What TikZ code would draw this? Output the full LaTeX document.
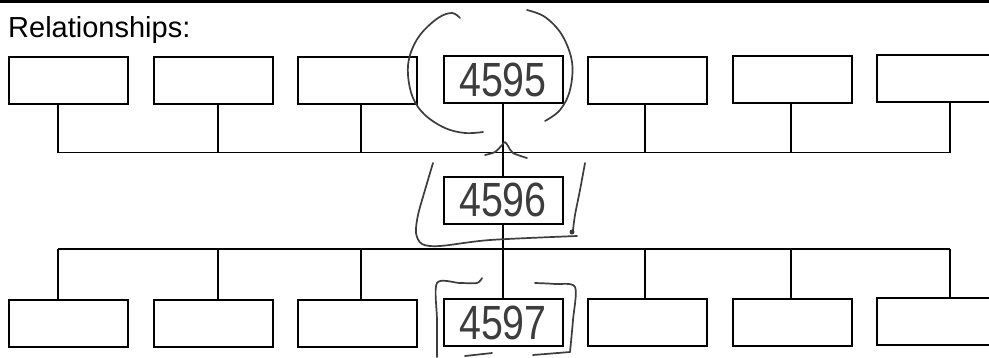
\documentclass[tikz,border=0pt]{standalone}
\usepackage{fontspec}
\setmainfont{Liberation Sans}
\begin{document}
\begin{tikzpicture}[x=1pt,y=-1pt,
  box/.style={draw=black,line width=2pt,minimum width=119pt,minimum height=47pt,inner sep=0pt,fill=white},
  wire/.style={draw=black,line width=1.5pt},
  ink/.style={draw=black!76,line width=1.7pt,line cap=round,line join=round},
  hand/.style={text=black!76,font=\fontsize{48}{48}\selectfont}]
\useasboundingbox (0,0) rectangle (989,357);
\clip (0,0) rectangle (989,357);
\fill[white] (0,0) rectangle (989,357);
\draw[line width=3pt] (0,1) -- (989,1);
\node[anchor=base west,inner sep=0pt,font=\fontsize{29}{29}\selectfont] (title) at (8,37) {Relationships:};
% top row
\node[box] (t1) at (68.5,80.5) {};
\node[box] (t2) at (213.2,80.5) {};
\node[box] (t3) at (357.9,80.5) {};
\node[box,hand] (t4) at (503,79.5) {\scalebox{0.82}[1]{4595}};
\node[box] (t5) at (647.3,80) {};
\node[box] (t6) at (792,79.5) {};
\node[box] (t7) at (936.7,78.5) {};
% middle
\node[box,hand] (m) at (503,200) {\scalebox{0.82}[1]{4596}};
% bottom row
\node[box] (b1) at (68.5,323.5) {};
\node[box] (b2) at (213.2,323.5) {};
\node[box] (b3) at (357.9,323) {};
\node[box,hand] (b4) at (503,322.5) {\scalebox{0.82}[1]{4597}};
\node[box] (b5) at (647.3,322.5) {};
\node[box] (b6) at (792,322) {};
\node[box] (b7) at (936.7,321) {};
% junctions
\foreach \i/\x in {1/58,2/218,3/361,4/503,5/645,6/791,7/950}{
  \coordinate (tj\i) at (\x,152.5);
  \coordinate (bj\i) at (\x,249);
}
\draw[wire] (tj1) -- (tj7);
\draw[wire] (bj1) -- (bj7);
\foreach \i in {1,2,3,5,6,7}{
  \draw[wire] (t\i.south -| tj\i) -- (tj\i);
  \draw[wire] (bj\i) -- (b\i.north -| bj\i);
}
\draw[wire] (t4.south) -- (m.north);
\draw[wire] (m.south) -- (b4.north);
% handwritten marks
\draw[ink] plot[smooth,tension=0.6] coordinates {(460,18) (452,13) (438,18) (420,35) (410,55) (408,75) (413,98) (425,115) (445,128) (465,133) (483,132)};
\draw[ink] plot[smooth,tension=0.6] coordinates {(527,10) (545,17) (562,35) (572,62) (570,90) (560,110) (545,121)};
\draw[ink] plot[smooth,tension=0.5] coordinates {(485,155) (495,152) (502,145) (505,142) (508,146) (513,153) (527,158)};
\draw[ink] plot[smooth,tension=0.5] coordinates {(433,163) (425,190) (418,215) (416,233) (422,244) (440,246) (490,240) (577,236)};
\draw[ink] plot[smooth,tension=0.5] coordinates {(585,163) (580,190) (575,215) (573,230)};
\fill[black!76] (572,232) circle (2.5);
\draw[ink] plot[smooth,tension=0.5] coordinates {(482,278) (477,283) (460,283) (437,283) (437,320) (437,357)};
\draw[ink] (465,356) -- (492,353);
\draw[ink] plot[smooth,tension=0.5] coordinates {(535,283) (555,284) (575,287) (573,320) (570,352)};
\draw[ink] (533,355) -- (570,352);
\end{tikzpicture}
\end{document}
